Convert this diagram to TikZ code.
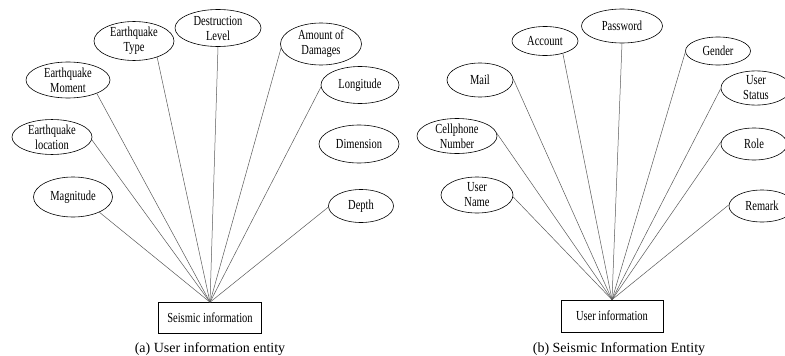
\documentclass[tikz,border=0pt]{standalone}
\usepackage{fontspec}
\setmainfont{Liberation Serif}
\newfontfamily\condfont[FakeStretch=0.76]{Liberation Serif}
\usetikzlibrary{shapes.geometric}
\tikzset{
  attr/.style={draw=black, line width=0.6pt, ellipse, inner sep=0pt, align=center,
    font=\condfont\fontsize{13.8}{15}\selectfont},
  entbox/.style={draw=black, line width=0.6pt, rectangle, inner sep=0pt, align=center,
    font=\condfont\fontsize{13.8}{15}\selectfont},
  link/.style={draw=black!65, line width=0.5pt},
  capt/.style={font=\fontsize{14}{16}\selectfont, inner sep=0pt}
}
\begin{document}
\begin{tikzpicture}[x=1pt,y=-1pt]
\useasboundingbox (0,0) rectangle (785,356);
% ---------- left panel ----------
\node[entbox, minimum width=103pt, minimum height=31pt] (sa) at (210,318) {Seismic information};
\node[attr, minimum width=86pt, minimum height=37pt] (dl) at (218,28) {Destruction\\Level};
\node[attr, minimum width=80pt, minimum height=36pt] (et) at (134,41) {Earthquake\\Type};
\node[attr, minimum width=81pt, minimum height=42pt] (ad) at (321,44) {Amount of\\Damages};
\node[attr, minimum width=84pt, minimum height=36pt] (em) at (68,80) {Earthquake\\Moment};
\node[attr, minimum width=78pt, minimum height=37pt] (lo) at (360,85) {Longitude};
\node[attr, minimum width=80pt, minimum height=33pt] (el) at (52,137) {Earthquake\\location};
\node[attr, minimum width=80pt, minimum height=38pt] (di) at (359,144) {Dimension};
\node[attr, minimum width=79pt, minimum height=40pt] (mg) at (73,197) {Magnitude};
\node[attr, minimum width=65pt, minimum height=33pt] (de) at (361,206) {Depth};
\draw[link] (dl.south) -- (sa.north);
\draw[link] (et.-35) -- (sa.north);
\draw[link] (ad.186) -- (sa.north);
\draw[link] (em.-25) -- (sa.north);
\draw[link] (lo.183) -- (sa.north);
\draw[link] (el.-4) -- (sa.north);
\draw[link] (mg.-30) -- (sa.north);
\draw[link] (de.182) -- (sa.north);
\node[capt] (ca) at (210,349) {(a) User information entity};
% ---------- right panel ----------
\node[entbox, minimum width=102pt, minimum height=32pt] (ui) at (612,316) {User information};
\node[attr, minimum width=81pt, minimum height=34pt] (pw) at (622,26) {Password};
\node[attr, minimum width=66pt, minimum height=29pt] (ac) at (545,41) {Account};
\node[attr, minimum width=65pt, minimum height=28pt] (ge) at (718,51) {Gender};
\node[attr, minimum width=66pt, minimum height=34pt] (ml) at (480,80) {Mail};
\node[attr, minimum width=70pt, minimum height=30pt] (us) at (756,88) {User\\Status};
\node[attr, minimum width=80pt, minimum height=35pt] (cn) at (457,136) {Cellphone\\Number};
\node[attr, minimum width=66pt, minimum height=32pt] (ro) at (754,144) {Role};
\node[attr, minimum width=72pt, minimum height=36pt] (un) at (477,195) {User\\Name};
\node[attr, minimum width=66pt, minimum height=32pt] (re) at (762,206) {Remark};
\draw[link] (pw.south) -- (ui.north);
\draw[link] (ac.-35) -- (ui.north);
\draw[link] (ge.182) -- (ui.north);
\draw[link] (ml.2) -- (ui.north);
\draw[link] (us.181) -- (ui.north);
\draw[link] (cn.4) -- (ui.north);
\draw[link] (ro.176) -- (ui.north);
\draw[link] (un.-3) -- (ui.north);
\draw[link] (re.178) -- (ui.north);
\node[capt] (cb) at (619,349) {(b) Seismic Information Entity};
\end{tikzpicture}
\end{document}
